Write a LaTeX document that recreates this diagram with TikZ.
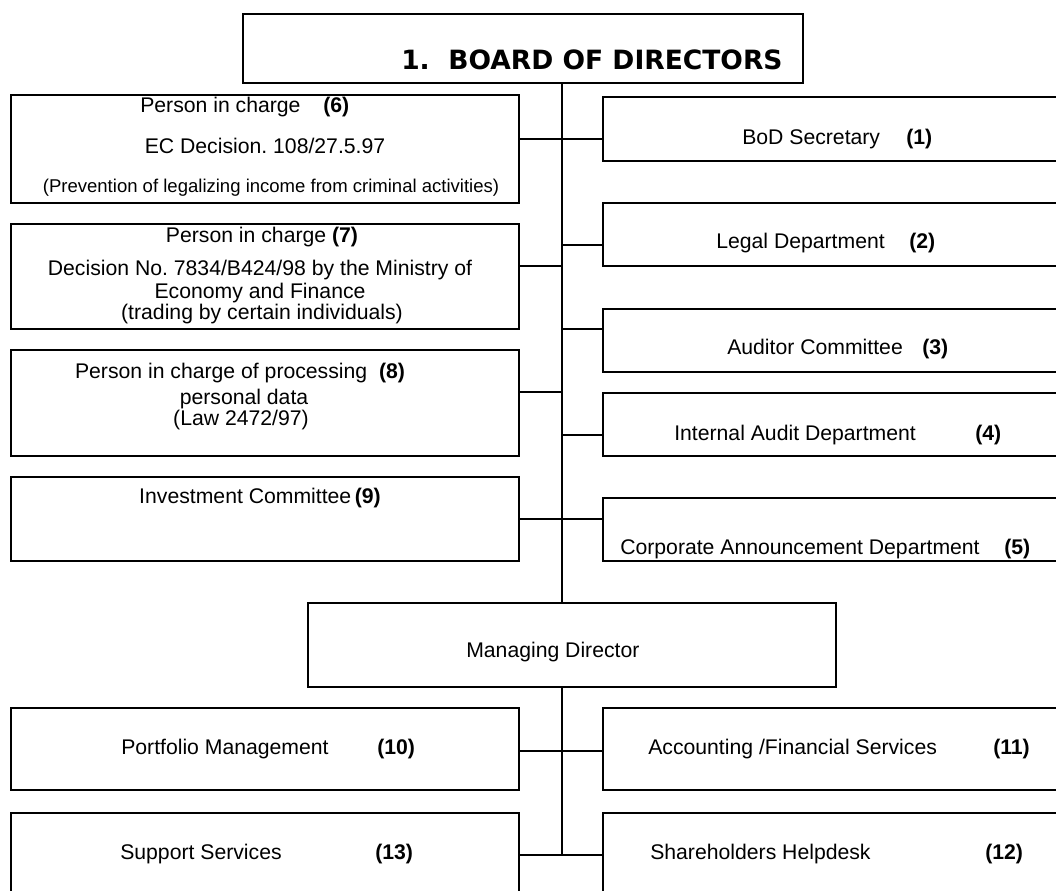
\documentclass[tikz,border=0pt]{standalone}
\usepackage{fontspec}
\setmainfont{Liberation Sans}
\newfontfamily\boardfont{DejaVu Sans}
\usetikzlibrary{fit}
\frenchspacing
\begin{document}
\begin{tikzpicture}[x=0.75pt,y=-0.75pt,
  box/.style={draw, line width=1.2pt, inner sep=0pt, rectangle},
  conn/.style={line width=1pt},
  lbl/.style={inner sep=0pt, anchor=base west, font=\fontsize{15.9}{19}\selectfont},
  clbl/.style={inner sep=0pt, anchor=base, font=\fontsize{15.9}{19}\selectfont},
  slbl/.style={inner sep=0pt, anchor=base, font=\fontsize{13.9}{17}\selectfont},
  num/.style={inner sep=0pt, anchor=base west, font=\fontsize{15.9}{19}\selectfont\bfseries},
  boardlbl/.style={inner sep=0pt, anchor=base west, font=\boardfont\fontsize{19.9}{24}\selectfont\bfseries}]
\useasboundingbox (0,0) rectangle (1056,891);
\clip (0,0) rectangle (1056,891);
\fill[white] (0,0) rectangle (1056,891);

% boxes
\node[box, fit={(243,14) (803,83)}] (board) {};
\node[box, fit={(11,95) (519,203)}] (b6) {};
\node[box, fit={(11,224) (519,329)}] (b7) {};
\node[box, fit={(11,350) (519,456)}] (b8) {};
\node[box, fit={(11,477) (519,561)}] (b9) {};
\node[box, fit={(603,97) (1075,161)}] (b1) {};
\node[box, fit={(603,203) (1075,266)}] (b2) {};
\node[box, fit={(603,309) (1075,372)}] (b3) {};
\node[box, fit={(603,393) (1075,456)}] (b4) {};
\node[box, fit={(603,498) (1075,561)}] (b5) {};
\node[box, fit={(308,603) (836,687)}] (md) {};
\node[box, fit={(11,708) (519,790)}] (b10) {};
\node[box, fit={(603,708) (1075,790)}] (b11) {};
\node[box, fit={(11,813) (519,910)}] (b13) {};
\node[box, fit={(603,813) (1075,910)}] (b12) {};

% junction coordinates on the trunk
\coordinate (t0) at (562,83);
\coordinate (j1) at (562,139);
\coordinate (j2) at (562,245);
\coordinate (j7) at (562,266);
\coordinate (j3) at (562,329);
\coordinate (j8) at (562,392);
\coordinate (j4) at (562,435);
\coordinate (j5) at (562,519);
\coordinate (t1) at (562,603);
\coordinate (t2) at (562,687);
\coordinate (j10) at (562,751);
\coordinate (j13) at (562,855);

% connectors
\draw[conn] (board.south -| t0) -- (md.north -| t1);
\draw[conn] (md.south -| t2) -- (j13);
\draw[conn] (b6.east |- j1) -- (b1.west |- j1);
\draw[conn] (j2) -- (b2.west |- j2);
\draw[conn] (b7.east |- j7) -- (j7);
\draw[conn] (j3) -- (b3.west |- j3);
\draw[conn] (b8.east |- j8) -- (j8);
\draw[conn] (j4) -- (b4.west |- j4);
\draw[conn] (b9.east |- j5) -- (b5.west |- j5);
\draw[conn] (b10.east |- j10) -- (b11.west |- j10);
\draw[conn] (b13.east |- j13) -- (b12.west |- j13);

% texts
\node[boardlbl] (tboard) at (401,70) {1.\ \ BOARD OF DIRECTORS};

\node[lbl] (t6a) at (140,113) {Person in charge};
\node[num] (n6) at (323,113) {(6)};
\node[clbl] (t6b) at (265,154) {EC Decision. 108/27.5.97};
\node[slbl] (t6c) at (271,193) {(Prevention of legalizing income from criminal activities)};

\node[clbl] (t7a) at (262,243) {Person in charge \textbf{(7)}};
\node[clbl] (t7b) at (260,276) {Decision No. 7834/B424/98 by the Ministry of};
\node[clbl] (t7c) at (260,298) {Economy and Finance};
\node[clbl] (t7d) at (262,320) {(trading by certain individuals)};

\node[clbl] (t8a) at (240,378) {Person in charge of processing\ \ \textbf{(8)}};
\node[clbl] (t8b) at (244,404) {personal data};
\node[clbl] (t8c) at (241,425) {(Law 2472/97)};

\node[clbl] (t9) at (260,503) {Investment Committee\,\textbf{(9)}};

\node[lbl] (t1) at (742,145) {BoD Secretary};
\node[num] (n1) at (906,145) {(1)};
\node[lbl] (t2) at (716,249) {Legal Department};
\node[num] (n2) at (909,249) {(2)};
\node[lbl] (t3) at (727,354) {Auditor Committee};
\node[num] (n3) at (922,354) {(3)};
\node[lbl] (t4) at (674,440) {Internal Audit Department};
\node[num] (n4) at (975,440) {(4)};
\node[lbl] (t5) at (620,554) {Corporate Announcement Department};
\node[num] (n5) at (1004,554) {(5)};

\node[lbl] (tmd) at (466,657) {Managing Director};

\node[lbl] (t10) at (121,754) {Portfolio Management};
\node[num] (n10) at (377,754) {(10)};
\node[lbl] (t11) at (648,754) {Accounting /Financial Services};
\node[num] (n11) at (993,754) {(11)};
\node[lbl] (t13) at (120,859) {Support Services};
\node[num] (n13) at (375,859) {(13)};
\node[lbl] (t12) at (650,859) {Shareholders Helpdesk};
\node[num] (n12) at (985,859) {(12)};
\end{tikzpicture}
\end{document}
